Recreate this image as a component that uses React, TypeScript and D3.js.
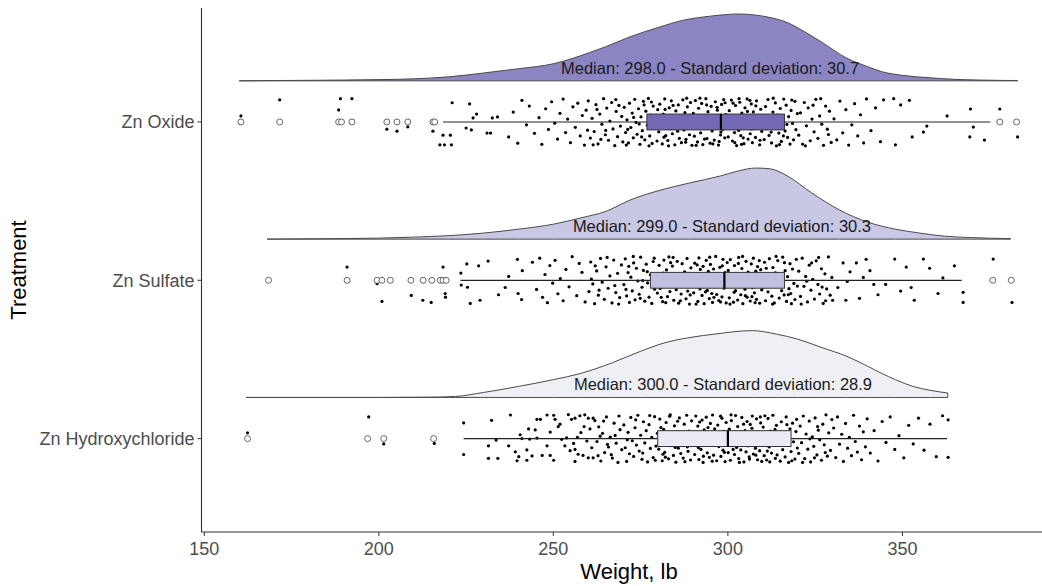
import React from 'react';
import * as d3 from 'd3';

// categories, bottom to top
const treatments = ['Zn Hydroxychloride', 'Zn Sulfate', 'Zn Oxide'];
const medians = [300.0, 299.0, 298.0];
const stdDevs = [28.9, 30.3, 30.7];
const lowerQuartiles = [279.9, 277.8, 276.8];
const upperQuartiles = [318.1, 316.2, 316.2];
const whiskerLows = [224.3, 223.4, 218.4];
const whiskerHighs = [362.8, 367.0, 375.2];
const labelCentres = [298.6, 298.3, 294.9];
const xTicks = [150, 200, 250, 300, 350];

const hydroxyOutliers = [162.4, 196.8, 201.4, 215.7];
const sulfateOutliers = [168.4, 190.9, 199.5, 200.9, 203.3, 209.2, 212.7, 215.2, 217.6, 218.4, 219.3, 375.9, 381.2];
const oxideOutliers = [160.5, 171.6, 188.5, 189.3, 192.3, 202.3, 205.2, 208.3, 215.5, 216.0, 377.9, 382.7];

// density (relative height), [weight, density]
const hydroxyDensity: [number, number][] = [
  [162, 0], [200, 0], [215, 0.004], [222, 0.014], [230, 0.07], [240, 0.155], [250, 0.25], [258, 0.34],
  [267, 0.49], [275, 0.65], [282, 0.77], [290, 0.85], [296, 0.89], [307, 0.94], [314, 0.89], [320, 0.82],
  [327, 0.7], [334, 0.58], [340, 0.44], [344, 0.34], [348, 0.25], [353, 0.155], [358, 0.1], [363, 0.062],
];
const sulfateDensity: [number, number][] = [
  [168, 0], [180, 0.004], [190, 0.008], [200, 0.014], [210, 0.028], [220, 0.049], [230, 0.085], [240, 0.14],
  [250, 0.21], [258, 0.3], [265, 0.39], [272, 0.55], [280, 0.68], [289, 0.79], [298, 0.89], [303, 0.96],
  [308, 1.0], [312, 0.99], [317, 0.89], [324, 0.65], [332, 0.41], [340, 0.24], [348, 0.14], [355, 0.085],
  [362, 0.042], [370, 0.021], [381, 0.007],
];
const oxideDensity: [number, number][] = [
  [160, 0], [170, 0.004], [180, 0.007], [190, 0.011], [200, 0.017], [210, 0.028], [220, 0.056], [230, 0.11],
  [240, 0.17], [250, 0.24], [260, 0.39], [265, 0.48], [272, 0.62], [280, 0.75], [287, 0.85], [295, 0.91],
  [303, 0.94], [310, 0.91], [317, 0.82], [322, 0.69], [327, 0.54], [334, 0.32], [340, 0.2], [344, 0.13],
  [350, 0.077], [358, 0.042], [365, 0.021], [372, 0.011], [383, 0.004],
];

// raw observations, [weight, jitter] (negative jitter = above the category line)
const hydroxyPoints: [number, number][] = [
  [162.4,-0.24],[197.1,-0.9],[201.4,0.22],[215.9,0.2],[224.3,-0.65],[224.3,0.66],[232.3,-0.76],[231.4,0.3],[231.4,0.82],[234.1,0.82],
  [233.6,0.06],[237.7,-0.98],[237.2,0.3],[239.1,0.55],[240.1,0.75],[239.6,0.92],[240.5,-0.16],[241.0,0.0],[242.4,0.47],[243.9,0.72],
  [242.4,0.9],[242.9,-0.4],[244.8,-0.36],[245.3,-0.8],[246.3,-0.8],[248.2,-0.98],[243.2,0.02],[245.3,-0.02],[248.2,0.3],[249.1,0.7],
  [250.1,0.9],[246.8,0.7],[249.1,-0.27],[250.5,-0.8],[251.4,-0.5],[251.9,-0.6],[250.1,-0.97],[252.4,0.03],[253.8,-0.03],[254.3,-1.0],
  [255.2,-0.8],[256.2,-0.85],[257.6,-0.95],[259.0,-0.99],[253.3,0.3],[254.8,0.5],[256.2,0.45],[257.1,0.65],[258.5,0.7],[256.2,0.95],
  [260.0,0.8],[261.4,0.8],[260.0,-0.85],[261.4,-0.85],[261.9,-0.75],
  [255.8,0.2],[257.9,-0.25],[259.6,0.1],[261.0,0.38],[258.8,-0.5],[263.4,-0.1],[256.9,-0.05],[260.5,-0.4],
  [262.5,0.12],[263.0,-0.49],[263.6,0.93],[264.1,-0.22],[264.7,0.58],[265.2,-0.9],[265.8,0.35],[266.3,-0.06],[266.9,0.81],[267.4,-0.64],
  [268.0,0.19],[268.5,0.99],[269.1,-0.37],[269.6,0.46],[264.4,-0.73],[266.6,0.67],[268.8,-0.94],[262.8,0.71],[267.7,-0.13],[265.5,0.24],
  [270.2,-0.57],[270.6,0.38],[271.0,0.95],[271.4,-0.26],[271.8,0.63],[272.2,-0.88],[272.6,0.09],[273.0,0.74],[273.4,-0.45],[273.8,0.27],
  [274.2,-0.97],[274.6,0.52],[275.0,-0.14],[275.4,0.86],[275.8,-0.7],[276.2,0.18],[276.6,-0.33],[277.0,0.97],[277.4,-0.58],[277.8,0.41],
  [278.2,-0.05],[278.6,0.79],[279.0,-0.91],[279.4,0.31],[279.8,-0.22],[271.2,0.05],[273.6,-0.78],[275.6,0.6],[277.6,-0.96],[279.2,0.9],
  [280.2,0.44],[280.5,-0.81],[280.9,0.16],[281.2,0.92],[281.6,-0.38],[281.9,0.57],[282.3,-0.67],[282.6,0.03],[283.0,0.84],[283.3,-0.93],
  [283.7,0.29],[284.0,-0.16],[284.4,0.7],[284.7,-0.53],[285.1,0.98],[285.4,-0.28],[285.8,0.4],[286.1,-0.86],[286.5,0.62],[286.8,-0.04],
  [287.2,0.81],[287.5,-0.6],[287.9,0.22],[288.2,-0.97],[288.6,0.53],[288.9,-0.31],[289.3,0.89],[289.6,-0.74],[280.8,-0.46],[282.1,0.77],
  [283.5,-0.99],[284.9,0.37],[286.3,-0.18],[287.7,0.96],[289.1,0.11],[281.4,0.65],[285.6,-0.72],[288.4,0.34],
  [290.2,-0.21],[290.5,0.66],[290.8,-0.94],[291.1,0.3],[291.4,-0.52],[291.7,0.87],[292.0,-0.08],[292.3,0.45],[292.6,-0.77],[292.9,0.99],
  [293.2,-0.36],[293.5,0.14],[293.8,-0.89],[294.1,0.59],[294.4,-0.17],[294.7,0.78],[295.0,-0.63],[295.3,0.25],[295.6,-0.98],[295.9,0.69],
  [296.2,-0.41],[296.5,0.06],[296.8,0.92],[297.1,-0.56],[297.4,0.33],[297.7,-0.13],[298.0,0.74],[298.3,-0.85],[298.6,0.48],[298.9,-0.3],
  [299.2,0.96],[299.5,-0.67],[299.8,0.2],[290.6,0.12],[291.9,-0.69],[293.0,0.73],[294.3,-0.46],[295.5,0.94],[296.7,-0.27],[297.9,-0.93],
  [299.0,0.57],[291.6,0.38],[294.9,-0.05],[298.1,0.1],
  [300.1,0.58],[300.4,-0.39],[300.7,0.9],[301.0,-0.75],[301.3,0.21],[301.6,-0.09],[301.9,0.66],[302.2,-0.96],[302.5,0.37],[302.8,-0.5],
  [303.1,0.83],[303.4,-0.18],[303.7,0.47],[304.0,-0.88],[304.3,0.11],[304.6,0.97],[304.9,-0.33],[305.2,0.55],[305.5,-0.71],[305.8,0.03],
  [306.1,0.76],[306.4,-0.59],[306.7,0.28],[307.0,-0.94],[307.3,0.64],[307.6,-0.24],[307.9,0.4],[308.2,-0.82],[308.5,0.88],[308.8,-0.11],
  [309.1,0.5],[309.4,-0.65],[309.7,0.95],[300.9,-0.99],[302.0,0.02],[303.3,0.99],[304.5,-0.6],[305.7,0.3],[306.9,-0.43],[308.0,0.69],
  [309.3,-0.9],[301.5,0.45],[303.9,-0.28],[306.2,0.85],[308.6,0.22],[300.3,-0.15],
  [310.1,-0.48],[310.4,0.71],[310.8,-0.02],[311.1,0.89],[311.5,-0.84],[311.8,0.35],[312.2,-0.31],[312.5,0.6],[312.9,-0.97],[313.2,0.18],
  [313.6,0.82],[313.9,-0.55],[314.3,0.07],[314.6,-0.23],[315.0,0.94],[315.3,-0.7],[315.7,0.46],[316.0,-0.12],[316.4,0.76],[316.7,-0.9],
  [317.1,0.26],[317.4,0.99],[317.8,-0.41],[318.1,0.54],[318.5,-0.64],[318.8,0.13],[319.2,0.85],[319.5,-0.29],[319.9,0.39],[310.6,-0.95],
  [312.0,0.97],[313.5,-0.38],[315.2,0.22],[316.9,-0.58],[318.3,0.92],[319.7,-0.8],[311.3,0.52],[314.1,0.68],
  [320.3,0.61],[320.7,-0.52],[321.1,0.17],[321.6,-0.94],[322.0,0.83],[322.4,-0.19],[322.9,0.44],[323.3,-0.73],[323.7,0.97],[324.2,-0.07],
  [324.6,0.32],[325.0,-0.86],[325.5,0.68],[325.9,-0.35],[326.3,0.05],[326.8,0.9],[327.2,-0.6],[327.6,0.26],[328.1,-0.99],[328.5,0.73],
  [328.9,-0.24],[329.4,0.49],[329.8,-0.79],[321.4,0.99],[323.5,0.01],[325.7,-0.5],[327.9,0.58],[324.8,0.8],
  [330.3,-0.44],[330.9,0.79],[331.4,-0.9],[332.0,0.23],[332.6,-0.18],[333.1,0.95],[333.7,-0.63],[334.3,0.4],[334.8,-0.05],[335.4,0.71],
  [336.0,-0.97],[336.5,0.12],[337.1,0.56],[337.7,-0.52],[338.3,0.88],[338.8,-0.28],[339.4,0.34],[339.9,-0.82],
  [340.8,0.6],[341.9,-0.33],[343.0,0.93],[344.2,-0.71],[345.3,0.16],[346.5,-0.9],[347.8,0.45],[349.0,-0.12],[350.4,0.8],[351.8,-0.55],
  [353.1,0.22],[354.6,-0.85],[356.2,0.48],[357.9,-0.6],[359.7,0.75],[361.5,-0.95],[363.1,-0.78],[363.1,0.78],
];

const sulfatePoints: [number, number][] = [
  [168.4,0.0],[190.9,-0.55],[199.5,0.14],[200.9,0.88],[203.3,0.0],[209.3,0.63],[212.6,0.83],[215.0,0.92],[218.4,-0.55],[219.0,0.55],
  [219.1,0.7],[223.5,-0.3],[225.2,-0.68],[223.6,0.2],[225.4,0.29],[226.2,0.96],[229.0,0.83],[228.6,-0.6],[231.3,-0.8],[234.3,0.6],
  [236.2,0.3],[237.2,-0.16],[239.7,-0.87],[241.1,-0.4],[239.9,0.55],[240.9,0.8],[244.0,-0.75],
  [245.2,0.38],[246.1,-0.92],[246.9,0.71],[247.6,-0.24],[248.3,0.93],[249.0,-0.61],[249.8,0.12],[250.5,-0.83],[251.3,0.56],[252.0,-0.07],
  [252.8,0.85],[253.6,-0.45],[254.5,0.27],[255.4,-0.98],[256.7,0.64],[258.2,-0.33],[259.1,0.9],[257.4,-0.7],
  [260.2,0.47],[260.7,-0.76],[261.3,0.15],[261.8,0.97],[262.4,-0.39],[262.9,0.62],[263.5,-0.91],[264.0,0.08],[264.6,0.79],[265.1,-0.56],
  [265.7,0.33],[266.2,-0.18],[266.8,0.94],[267.3,-0.84],[267.9,0.51],[268.4,-0.29],[269.0,0.72],[269.5,-0.64],[260.9,-0.05],[263.1,0.41],
  [265.4,-0.95],[267.6,0.22],[268.7,0.99],[262.0,-0.6],
  [270.2,0.18],[270.6,-0.89],[271.0,0.65],[271.4,-0.32],[271.8,0.92],[272.2,-0.13],[272.6,0.44],[273.0,-0.72],[273.4,0.81],[273.8,-0.5],
  [274.2,0.03],[274.6,0.58],[275.0,-0.96],[275.4,0.29],[275.8,-0.41],[276.2,0.87],[276.6,-0.67],[277.0,0.11],[277.4,0.7],[277.8,-0.23],
  [278.2,0.96],[278.6,-0.78],[279.0,0.37],[279.4,-0.07],[279.8,0.53],[270.8,0.38],[272.9,-0.99],[274.9,0.75],[276.9,-0.36],[278.9,-0.92],
  [271.6,-0.58],[275.6,0.01],
  [280.3,-0.62],[280.6,0.34],[281.0,-0.14],[281.3,0.89],[281.7,-0.84],[282.0,0.21],[282.4,-0.43],[282.7,0.68],[283.1,-0.97],[283.4,0.47],
  [283.8,0.02],[284.1,-0.59],[284.5,0.83],[284.8,-0.26],[285.2,0.39],[285.5,-0.79],[285.9,0.95],[286.2,-0.09],[286.6,0.57],[286.9,-0.69],
  [287.3,0.14],[287.6,-0.35],[288.0,0.77],[288.3,-0.91],[288.7,0.26],[289.0,0.99],[289.4,-0.52],[289.7,0.08],[280.9,0.71],[282.2,0.93],
  [283.6,-0.73],[285.0,-0.01],[286.4,0.85],[287.8,-0.22],[289.2,0.61],[281.5,-0.3],[284.3,-0.95],[288.5,0.45],
  [290.2,0.52],[290.5,-0.71],[290.8,0.19],[291.1,-0.28],[291.4,0.88],[291.7,-0.93],[292.0,0.36],[292.3,-0.15],[292.6,0.63],[292.9,-0.58],
  [293.2,0.97],[293.5,0.05],[293.8,-0.83],[294.1,0.42],[294.4,-0.37],[294.7,0.76],[295.0,-0.66],[295.3,0.11],[295.6,0.92],[295.9,-0.47],
  [296.2,0.27],[296.5,-0.99],[296.8,0.59],[297.1,-0.19],[297.4,0.84],[297.7,-0.54],[298.0,0.03],[298.3,0.69],[298.6,-0.87],[298.9,0.33],
  [299.2,-0.32],[299.5,0.94],[299.8,-0.74],[290.9,0.99],[292.1,-0.45],[293.6,0.48],[294.8,-0.96],[296.0,0.71],[297.2,-0.08],[298.4,-0.6],
  [299.6,0.18],[291.2,-0.64],[295.4,0.55],[297.9,0.9],
  [300.1,-0.41],[300.4,0.73],[300.7,-0.86],[301.0,0.24],[301.3,-0.12],[301.6,0.91],[301.9,-0.61],[302.2,0.43],[302.5,-0.27],[302.8,0.82],
  [303.1,-0.95],[303.4,0.16],[303.7,0.6],[304.0,-0.49],[304.3,0.97],[304.6,-0.06],[304.9,0.37],[305.2,-0.79],[305.5,0.7],[305.8,-0.34],
  [306.1,0.09],[306.4,0.86],[306.7,-0.68],[307.0,0.31],[307.3,-0.92],[307.6,0.52],[307.9,-0.2],[308.2,0.79],[308.5,-0.57],[308.8,0.05],
  [309.1,0.95],[309.4,-0.44],[309.7,0.4],[300.6,0.99],[301.8,0.5],[303.0,-0.7],[304.2,-0.99],[305.4,0.26],[306.6,-0.16],[307.8,0.93],
  [309.0,-0.82],[302.4,-0.02],[305.0,0.64],[308.0,-0.38],[303.8,-0.24],[306.9,0.68],
  [310.1,0.29],[310.5,-0.75],[310.8,0.85],[311.2,-0.19],[311.5,0.48],[311.9,-0.9],[312.2,0.07],[312.6,0.66],[312.9,-0.53],[313.3,0.94],
  [313.6,-0.31],[314.0,0.2],[314.3,-0.82],[314.7,0.74],[315.0,-0.07],[315.4,0.43],[315.7,-0.96],[316.1,0.61],[316.4,-0.4],[316.8,0.88],
  [317.1,-0.15],[317.5,0.35],[317.8,-0.69],[318.2,0.97],[318.5,-0.47],[318.9,0.13],[319.2,0.8],[319.6,-0.87],[319.9,0.24],[311.0,-0.5],
  [312.8,0.99],[314.5,0.01],[316.2,-0.73],[318.0,0.55],[313.8,-0.99],[317.3,0.6],
  [320.3,-0.38],[320.8,0.67],[321.3,-0.92],[321.8,0.25],[322.3,-0.16],[322.8,0.9],[323.3,-0.63],[323.8,0.41],[324.3,-0.04],[324.8,0.78],
  [325.3,-0.81],[325.8,0.17],[326.3,0.57],[326.8,-0.48],[327.3,0.96],[327.8,-0.27],[328.3,0.36],[328.8,-0.97],[329.3,0.62],[329.8,-0.12],
  [321.0,0.99],[324.0,-0.72],[326.0,-0.95],[328.0,0.85],[322.6,0.04],[327.0,0.28],
  [330.0,0.83],[333.0,-0.72],[333.8,0.83],[336.8,-0.72],[337.7,0.75],[339.6,-0.87],[338.8,-0.12],[340.7,-0.4],[341.8,0.17],[345.2,0.17],
  [331.5,0.3],[335.0,-0.35],[343.0,0.6],[334.2,0.05],
  [347.8,-0.88],[351.1,-0.55],[352.5,0.3],[353.4,0.83],[356.0,-0.88],[357.8,-0.5],[360.2,0.55],[361.6,-0.1],[364.9,-0.6],[367.4,0.5],
  [367.4,0.92],[376.0,-0.88],[381.4,0.92],[349.5,0.45],
];

const oxidePoints: [number, number][] = [
  [160.5,-0.25],[171.6,-0.92],[188.5,-0.5],[189.0,-0.97],[192.3,-0.97],[202.3,0.3],[205.2,0.38],[208.3,0.2],[215.5,0.38],[217.5,0.95],
  [218.4,0.55],[218.8,0.95],[220.5,0.55],[220.8,0.95],[221.0,-0.8],[226.0,-0.75],[225.0,0.25],[226.5,0.33],[227.0,-0.17],[228.0,-0.33],
  [231.0,0.46],[232.0,0.46],[232.5,-0.17],[234.0,-0.21],
  [237.2,0.62],[238.5,-0.41],[239.8,0.88],[241.0,-0.9],[242.3,0.12],[243.1,-0.66],[244.6,0.47],[245.9,-0.18],[246.7,0.93],[247.8,-0.55],
  [248.6,0.31],[249.5,-0.84],
  [250.4,0.05],[251.2,0.71],[251.9,-0.36],[252.8,-0.95],[253.5,0.44],[254.1,-0.12],[254.9,0.86],[255.6,-0.63],[256.3,0.22],[257.0,-0.78],
  [257.7,0.58],[258.3,-0.27],[258.9,0.96],[259.4,-0.49],[259.8,0.34],[260.0,-0.88],
  [260.6,0.67],[261.1,-0.15],[261.7,0.4],[262.2,-0.72],[262.8,0.91],[263.3,-0.33],[263.9,0.09],[264.4,-0.97],[264.9,0.53],[265.3,-0.58],
  [265.8,0.76],[266.2,-0.04],[266.7,-0.81],[267.1,0.29],[267.6,0.98],[268.0,-0.44],[268.4,0.61],[268.8,-0.69],[269.2,0.17],[269.6,-0.23],
  [269.9,0.83],[265.0,0.35],[262.5,-0.52],[267.9,-0.93],[263.6,0.72],[261.4,0.95],
  [270.3,-0.61],[270.7,0.44],[271.1,-0.09],[271.5,0.87],[271.8,-0.78],[272.2,0.23],[272.6,-0.37],[272.9,0.66],[273.3,-0.94],[273.7,0.02],
  [274.0,0.51],[274.4,-0.55],[274.8,0.93],[275.1,-0.21],[275.5,0.36],[275.8,-0.86],[276.2,0.74],[276.5,-0.45],[276.9,0.13],[277.2,-0.98],
  [277.6,0.58],[277.9,-0.29],[278.3,0.89],[278.6,-0.66],[279.0,0.19],[279.3,-0.12],[279.7,0.79],[279.9,-0.51],[270.9,0.96],[273.0,-0.19],
  [274.6,0.08],[276.0,-0.71],[277.4,0.99],[278.1,-0.83],[271.3,0.31],[275.3,0.62],
  [280.2,0.41],[280.5,-0.74],[280.9,0.06],[281.2,0.91],[281.5,-0.33],[281.9,-0.96],[282.2,0.57],[282.5,-0.17],[282.8,0.77],[283.2,-0.59],
  [283.5,0.28],[283.8,-0.88],[284.1,0.49],[284.5,-0.04],[284.8,0.95],[285.1,-0.46],[285.4,0.15],[285.8,-0.71],[286.1,0.68],[286.4,-0.24],
  [286.7,0.86],[287.1,-0.92],[287.4,0.33],[287.7,-0.39],[288.0,0.72],[288.4,-0.63],[288.7,0.02],[289.0,0.53],[289.3,-0.81],[289.7,0.97],
  [280.7,-0.27],[281.7,0.63],[283.0,0.99],[284.3,-0.69],[285.6,0.38],[286.9,-0.08],[288.2,-0.99],[289.5,0.21],[282.0,-0.52],[287.9,0.84],
  [290.1,-0.36],[290.4,0.59],[290.7,-0.89],[291.0,0.12],[291.3,0.83],[291.6,-0.57],[291.9,-0.06],[292.2,0.45],[292.5,-0.77],[292.8,0.94],
  [293.1,-0.28],[293.4,0.26],[293.7,-0.97],[294.0,0.69],[294.3,-0.43],[294.6,0.08],[294.9,0.88],[295.2,-0.65],[295.5,0.37],[295.8,-0.16],
  [296.1,0.75],[296.4,-0.84],[296.7,0.19],[297.0,-0.49],[297.3,0.96],[297.6,-0.02],[297.9,0.54],[298.2,-0.73],[298.5,0.31],[298.8,-0.93],
  [299.1,0.66],[299.4,-0.31],[299.7,0.04],[290.9,0.97],[292.0,-0.99],[293.3,0.71],[294.5,-0.19],[295.7,0.91],[296.9,-0.61],[298.0,0.42],
  [299.2,-0.8],[291.5,0.24],[297.5,0.81],[293.9,-0.71],
  [300.1,0.62],[300.4,-0.47],[300.7,0.14],[301.0,-0.91],[301.3,0.79],[301.6,-0.23],[301.9,0.44],[302.2,-0.68],[302.5,0.98],[302.8,-0.11],
  [303.1,0.35],[303.4,-0.82],[303.7,0.57],[304.0,-0.37],[304.3,0.07],[304.6,0.9],[304.9,-0.59],[305.2,0.25],[305.5,-0.96],[305.8,0.71],
  [306.1,-0.14],[306.4,0.49],[306.7,-0.75],[307.0,0.86],[307.3,-0.42],[307.6,0.02],[307.9,0.64],[308.2,-0.88],[308.5,0.18],[308.8,-0.26],
  [309.1,0.95],[309.4,-0.53],[309.7,0.39],[300.9,-0.02],[302.0,0.86],[303.2,-0.97],[304.4,0.66],[305.6,-0.44],[306.8,0.29],[308.0,-0.67],
  [309.2,0.76],[301.5,-0.78],[303.9,0.93],[306.3,-0.9],
  [310.1,-0.17],[310.4,0.73],[310.8,-0.64],[311.1,0.28],[311.5,-0.93],[311.8,0.56],[312.2,-0.08],[312.5,0.87],[312.9,-0.41],[313.2,0.13],
  [313.6,-0.79],[313.9,0.99],[314.3,-0.29],[314.6,0.46],[315.0,-0.56],[315.3,0.81],[315.7,-0.02],[316.0,-0.95],[316.4,0.37],[316.7,-0.7],
  [317.1,0.64],[317.4,-0.22],[317.8,0.92],[318.1,-0.48],[318.5,0.06],[318.8,0.74],[319.2,-0.86],[319.5,0.32],[319.9,-0.35],[311.7,0.03],
  [313.0,-0.99],[314.8,0.94],[316.9,0.1],[318.3,-0.91],[312.4,0.42],[315.9,0.58],
  [320.3,0.55],[320.8,-0.38],[321.4,0.92],[321.9,-0.81],[322.5,0.16],[323.0,-0.59],[323.6,0.78],[324.1,-0.12],[324.7,0.41],[325.2,-0.94],
  [325.8,0.68],[326.3,-0.25],[326.9,0.09],[327.4,0.97],[328.0,-0.66],[328.5,0.3],[329.1,-0.45],[329.6,0.85],[322.2,0.99],[324.4,-0.7],
  [326.6,-0.97],[328.8,0.52],
  [330.4,-0.13],[331.2,0.74],[332.1,-0.87],[332.9,0.45],[333.8,-0.51],[334.6,0.96],[335.5,0.12],[336.3,-0.76],[337.2,0.58],[338.0,-0.3],
  [338.9,0.87],[339.7,-0.96],
  [341.0,0.36],[342.3,-0.59],[343.7,0.82],[344.6,-0.92],[347.5,-0.97],[348.0,0.95],[349.5,-0.71],[352.0,-0.9],[352.8,0.62],[356.0,0.42],
  [357.0,0.17],[362.8,-0.25],[369.5,-0.54],[370.3,0.21],[369.3,0.62],[373.5,0.75],[377.9,-0.54],[383.0,0.62],
];

const densityFills = ['#efeff6', '#c8c8e5', '#8b85c4'];
const boxFills = ['#ebebf5', '#c0c1e0', '#7469b5'];

export default function App() {
  const width = 1042;
  const height = 586;
  const font = '"Liberation Sans", Arial, Helvetica, sans-serif';

  const x = d3.scaleLinear().domain([149.2, 394]).range([201.5, 1056]);
  const y = d3.scaleLinear().domain([0.41, 3.72]).range([532, 8]);

  const slabOffset = 0.26;
  const slabScale = 0.449;
  const boxHalf = 0.05;
  const jitterWidth = 0.152;

  const groups = [
    { points: hydroxyPoints, outliers: hydroxyOutliers, density: hydroxyDensity },
    { points: sulfatePoints, outliers: sulfateOutliers, density: sulfateDensity },
    { points: oxidePoints, outliers: oxideOutliers, density: oxideDensity },
  ];

  const [x0] = x.range();
  const [yBottom, yTop] = y.range();

  return (
    <svg
      width={width}
      height={height}
      style={{ position: 'absolute', left: 0, top: 0, fontFamily: font }}
    >
      <rect width={width} height={height} fill="#ffffff" />

      {groups.map((g, i) => {
        const pos = i + 1;
        const base = pos + slabOffset;
        const area = d3
          .area<[number, number]>()
          .x((d) => x(d[0]))
          .y0(y(base))
          .y1((d) => y(base + d[1] * slabScale))
          .curve(d3.curveMonotoneX);
        const label = `Median: ${medians[i].toFixed(1)} - Standard deviation: ${stdDevs[i].toFixed(1)}`;
        const cy = y(pos);
        const boxTop = y(pos + boxHalf);
        const boxBottom = y(pos - boxHalf);
        return (
          <g key={treatments[i]}>
            <path
              d={area(g.density) || ''}
              fill={densityFills[i]}
              stroke="#4a4a4a"
              strokeWidth={1}
            />
            <text
              x={x(labelCentres[i])}
              y={y(base) - 7}
              textAnchor="middle"
              fontSize={16.5}
              fill="#1a1a1a"
            >
              {label}
            </text>

            {g.points.map((p, j) => (
              <circle
                key={j}
                cx={x(p[0])}
                cy={y(pos - p[1] * jitterWidth)}
                r={1.6}
                fill="#000000"
              />
            ))}

            <line x1={x(whiskerLows[i])} x2={x(lowerQuartiles[i])} y1={cy} y2={cy} stroke="#222222" strokeWidth={1.2} />
            <line x1={x(upperQuartiles[i])} x2={x(whiskerHighs[i])} y1={cy} y2={cy} stroke="#222222" strokeWidth={1.2} />
            <rect
              x={x(lowerQuartiles[i])}
              y={boxTop}
              width={x(upperQuartiles[i]) - x(lowerQuartiles[i])}
              height={boxBottom - boxTop}
              fill={boxFills[i]}
              stroke="#333333"
              strokeWidth={1}
            />
            <line x1={x(medians[i])} x2={x(medians[i])} y1={boxTop} y2={boxBottom} stroke="#000000" strokeWidth={2.2} />

            {g.outliers.map((o, j) => (
              <circle key={'o' + j} cx={x(o)} cy={cy} r={3} fill="#ffffff" stroke="#555555" strokeWidth={0.9} />
            ))}
          </g>
        );
      })}

      {/* axes */}
      <line x1={x0} x2={x0} y1={yTop} y2={yBottom} stroke="#333333" strokeWidth={1.1} />
      <line x1={x0} x2={width} y1={yBottom} y2={yBottom} stroke="#333333" strokeWidth={1.1} />

      {xTicks.map((t) => (
        <g key={t}>
          <line x1={x(t)} x2={x(t)} y1={yBottom} y2={yBottom + 4} stroke="#333333" strokeWidth={1} />
          <text x={x(t)} y={yBottom + 23} textAnchor="middle" fontSize={18} fill="#4d4d4d">
            {t}
          </text>
        </g>
      ))}

      {treatments.map((t, i) => (
        <g key={t}>
          <line x1={x0 - 4} x2={x0} y1={y(i + 1)} y2={y(i + 1)} stroke="#333333" strokeWidth={1} />
          <text x={x0 - 7} y={y(i + 1)} dy="0.35em" textAnchor="end" fontSize={18} fill="#4d4d4d">
            {t}
          </text>
        </g>
      ))}

      <text x={629} y={579} textAnchor="middle" fontSize={22} fill="#000000">
        Weight, lb
      </text>
      <text transform="translate(26, 270) rotate(-90)" textAnchor="middle" fontSize={22} fill="#000000">
        Treatment
      </text>
    </svg>
  );
}
